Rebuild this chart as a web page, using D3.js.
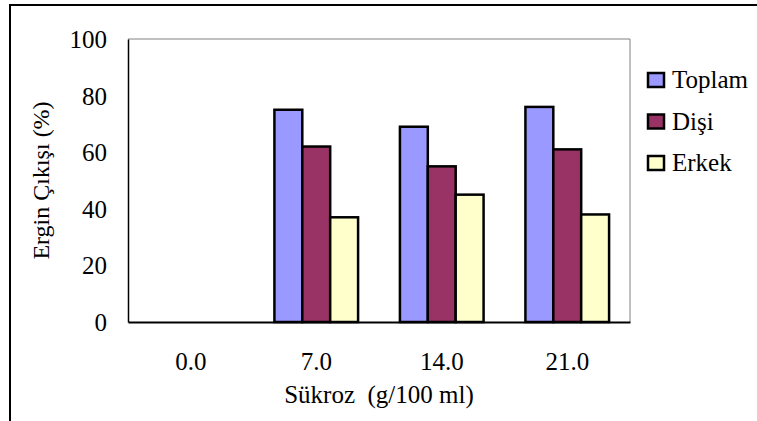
<!DOCTYPE html>
<html>
<head>
<meta charset="utf-8">
<script src="https://cdn.jsdelivr.net/npm/d3@7"></script>
<style>
body { margin: 0; background: #fff; }
</style>
</head>
<body>
<div id="chart-area"></div>
<script>
let width = 757,
height = 421;

let font = "'Liberation Serif', 'Times New Roman', Tinos, 'DejaVu Serif', serif"

// data
let categories = ['0.0', '7.0', '14.0', '21.0']
let seriesNames = ['Toplam', 'Dişi', 'Erkek']
let toplam = [0, 75, 69, 76]
let disi = [0, 62, 55, 61]
let erkek = [0, 37, 45, 38]
let yTicks = [0, 20, 40, 60, 80, 100]
let colors = ['#9999ff', '#993366', '#ffffcc']

let margin = {left: 128, top: 39, right: 630, bottom: 322}

let svg = d3.select('#chart-area').append('svg')
  .attr('width', width)
  .attr('height', height)
  .style('font-family', font)

// outer frame
svg.append('rect')
  .attr('x', 10).attr('y', 5)
  .attr('width', 800).attr('height', 500)
  .attr('fill', 'none')
  .attr('stroke', '#000')
  .attr('stroke-width', 2)

let x = d3.scaleBand()
  .domain(categories)
  .range([margin.left, margin.right])

let y = d3.scaleLinear()
  .domain([0, 100])
  .range([margin.bottom, margin.top])

// gap width 150% like excel
let barW = x.bandwidth() / 4.5
let x1 = d3.scaleBand()
  .domain(seriesNames)
  .range([barW * 0.75, barW * 3.75])

// plot area top / right in gray
svg.append('path')
  .attr('d', `M${margin.left},${margin.top}H${margin.right}V${margin.bottom}`)
  .attr('fill', 'none')
  .attr('stroke', '#808080')
  .attr('stroke-width', 1)

let rows = categories.map((c, i) => ({cat: c, vals: [toplam[i], disi[i], erkek[i]]}))

let groups = svg.selectAll('.grp')
  .data(rows)
  .enter().append('g')
  .attr('class', 'grp')
  .attr('transform', d => 'translate(' + x(d.cat) + ',0)')

groups.selectAll('rect')
  .data(d => d.vals.filter(v => v > 0).map((v, j) => ({name: seriesNames[j], v: v, c: colors[j]})))
  .enter().append('rect')
  .attr('x', d => x1(d.name))
  .attr('width', x1.bandwidth())
  .attr('y', d => y(d.v))
  .attr('height', d => y(0) - y(d.v))
  .attr('fill', d => d.c)
  .attr('stroke', '#000')
  .attr('stroke-width', 2.5)

// axes
let yAxis = d3.axisLeft(y).tickValues(yTicks).tickSize(0).tickPadding(21)
let gy = svg.append('g')
  .attr('transform', 'translate(' + margin.left + ',0)')
  .call(yAxis)
  .attr('font-family', null)
  .attr('font-size', 25)
gy.select('.domain').attr('stroke', '#000').attr('stroke-width', 1.5)
gy.selectAll('text').attr('dy', '0.34em').attr('fill', '#000')

let xAxis = d3.axisBottom(x).tickSize(0).tickPadding(30)
let gx = svg.append('g')
  .attr('transform', 'translate(0,' + margin.bottom + ')')
  .call(xAxis)
  .attr('font-family', null)
  .attr('font-size', 25)
gx.select('.domain').attr('stroke', '#000').attr('stroke-width', 2)
gx.selectAll('text').attr('fill', '#000')

// titles
svg.append('text')
  .attr('x', (margin.left + margin.right) / 2)
  .attr('y', 403)
  .attr('text-anchor', 'middle')
  .attr('font-size', 25)
  .style('white-space', 'pre')
  .text('Sükroz  (g/100 ml)')

svg.append('text')
  .attr('transform', 'translate(49,' + ((margin.top + margin.bottom) / 2) + ') rotate(-90)')
  .attr('text-anchor', 'middle')
  .attr('font-size', 24)
  .text('Ergin Çıkışı (%)')

// legend
let legend = svg.selectAll('.leg')
  .data(seriesNames)
  .enter().append('g')
  .attr('class', 'leg')
  .attr('transform', (d, i) => 'translate(648,' + (88 + i * 41.5) + ')')

legend.append('rect')
  .attr('x', 0).attr('y', -15)
  .attr('width', 16).attr('height', 14)
  .attr('fill', (d, i) => colors[i])
  .attr('stroke', '#000')
  .attr('stroke-width', 2.5)

legend.append('text')
  .attr('x', 24)
  .attr('y', 0)
  .attr('font-size', 25)
  .text(d => d)
</script>
</body>
</html>
